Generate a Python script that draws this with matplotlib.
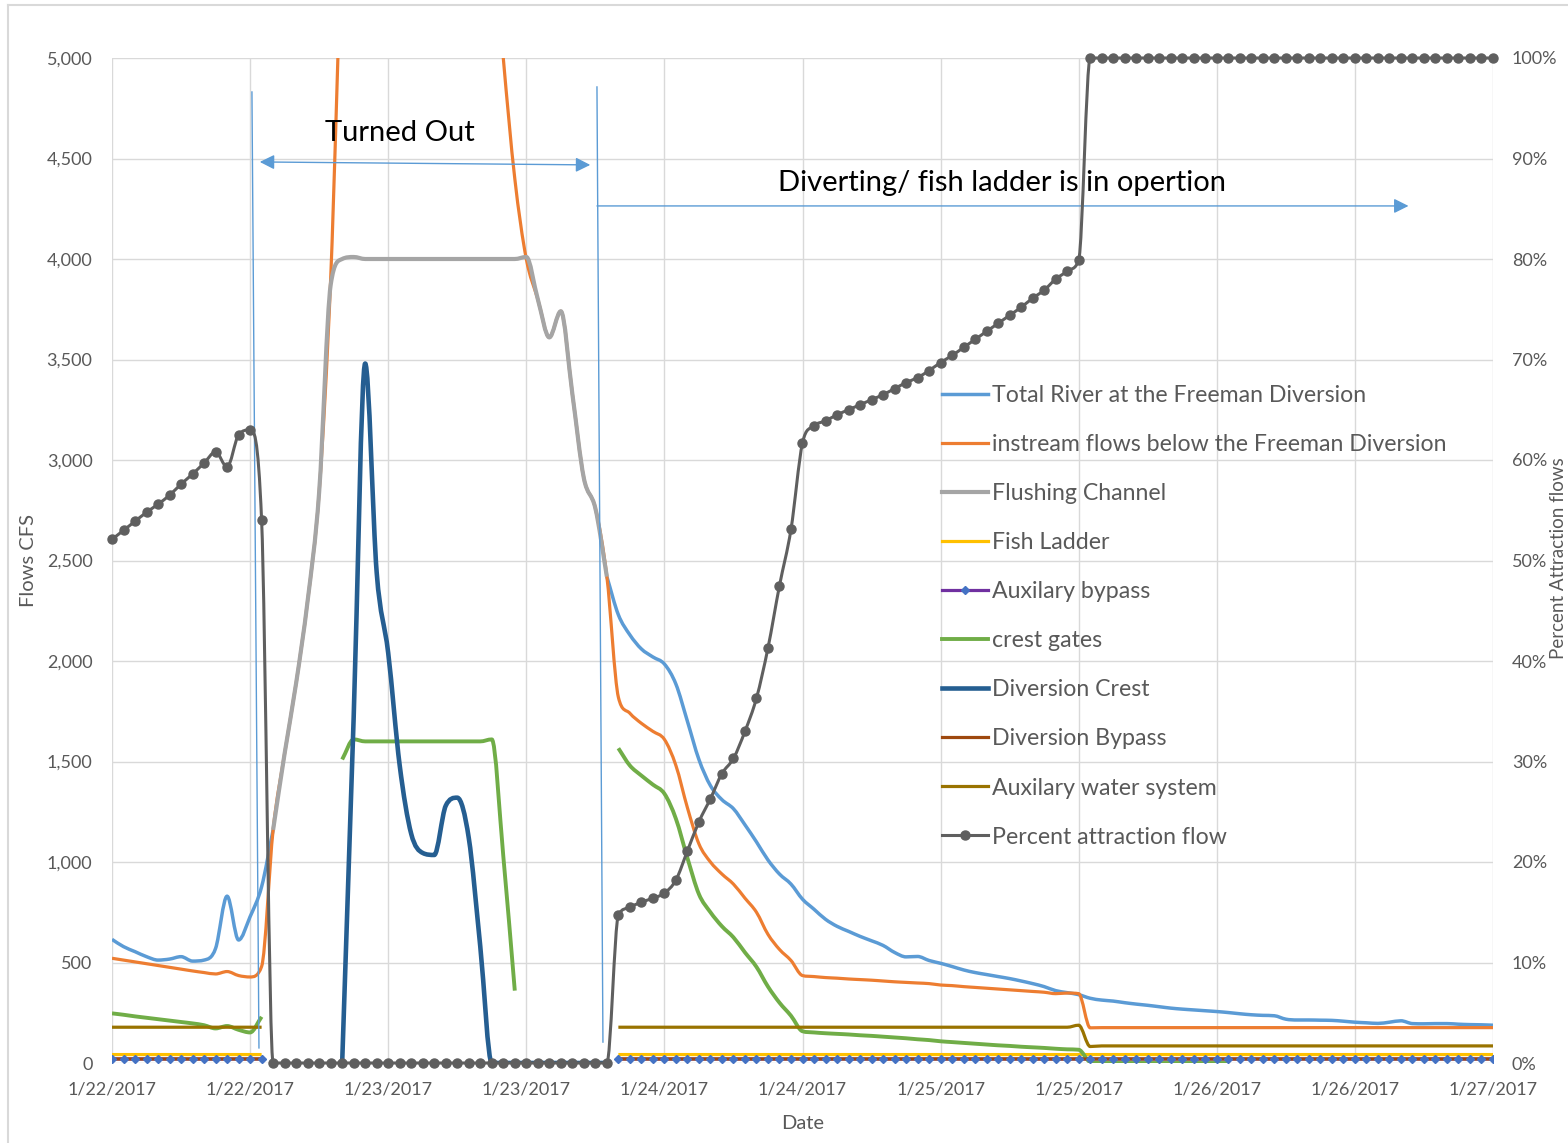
import numpy as np
import matplotlib

matplotlib.use("Agg")
import matplotlib.pyplot as plt
from matplotlib.lines import Line2D
from matplotlib.patches import PathPatch
from matplotlib.path import Path
from matplotlib.ticker import PercentFormatter

nan = np.nan

# Hourly readings from 1/22/2017 00:00 to 1/27/2017 00:00 (121 samples)
hours = np.arange(121)
tick_hours = list(range(0, 121, 12))
tick_labels = ["1/22/2017", "1/22/2017", "1/23/2017", "1/23/2017", "1/24/2017", "1/24/2017",
               "1/25/2017", "1/25/2017", "1/26/2017", "1/26/2017", "1/27/2017"]

# flows in cfs
total_river = ([615, 579, 554, 529, 512, 517, 529, 507, 512, 570, 830, 612, 728, 877]
               + [1160] + [nan] * 28 + [2420]
               + [2230, 2130, 2060, 2020, 1985, 1885, 1700, 1510, 1380, 1310,
                  1265, 1185, 1100, 1010, 940, 890, 815, 765, 715, 680,
                  655, 630, 608, 585, 550, 528, 530, 510, 496, 480,
                  463, 450, 440, 430, 420, 408, 395, 380, 360, 350, 340]
               + [322, 313, 308, 300, 293, 287, 280, 273, 268, 264,
                  260, 256, 251, 245, 240, 237, 235, 218, 214, 214,
                  213, 212, 208, 203, 200, 197, 203, 210, 196, 195,
                  196, 196, 193, 191, 190, 188])

instream = ([521, 512, 503, 494, 485, 476, 467, 458, 450, 443, 455, 435, 428, 480]
            + [1160, 1540, 1890, 2300, 2840, 3900, 5600,
               6500, 7500, 8000, 8200, 8200, 8000, 7800, 7500, 7200, 6900, 6500, 6100, 5700,
               5000, 4400, 4000, 3800, 3610, 3740, 3330, 2910, 2760, 2420]
            + [1820, 1740, 1690, 1650, 1610, 1480, 1270, 1090, 1000, 940,
               890, 820, 750, 640, 565, 510, 435, 430, 425, 422,
               418, 415, 412, 408, 404, 401, 398, 395, 388, 385,
               380, 376, 372, 368, 364, 360, 356, 352, 345, 348, 345]
            + [175] + [176] * 35)

flushing = ([nan] * 14
            + [1160, 1540, 1890, 2300, 2840, 3870, 4000, 4010]
            + [4000] * 14
            + [4010, 3800, 3610, 3740, 3330, 2910, 2760, 2420]
            + [nan] * 77)

fish_ladder = [42] * 14 + [nan] * 30 + [42] * 77
aux_bypass = [20] * 14 + [nan] * 30 + [20] * 77
diversion_bypass = [20] * 14 + [nan] * 30 + [20] * 77

crest_gates = ([247, 240, 232, 225, 218, 211, 204, 197, 188, 172, 184, 165, 152, 230]
               + [nan] * 6
               + [1510, 1610] + [1600] * 11 + [1610, 1030, 360]
               + [nan] * 8
               + [1566, 1480, 1430, 1385, 1340, 1215, 1020, 840, 750, 680,
                  625, 550, 478, 380, 300, 235, 158, 152, 148, 145,
                  142, 138, 135, 131, 127, 123, 118, 114, 108, 104,
                  100, 96, 92, 88, 85, 81, 78, 75, 71, 68, 66]
               + [5] + [0] * 12 + [nan] * 23)

diversion_crest = ([nan] * 20
                   + [0, 1720, 3480, 2440, 2040, 1480, 1140, 1045, 1035, 1280,
                      1320, 1120, 580, 0]
                   + [0] * 10
                   + [nan] * 77)

aux_water = [178] * 14 + [nan] * 30 + [178] * 40 + [188, 82] + [85] * 35

# share of river flow used as attraction flow, percent
attraction_pct = ([52.1, 53.0, 53.9, 54.8, 55.6, 56.5, 57.6, 58.6, 59.7, 60.8, 59.3, 62.5, 63.0, 54.0]
                  + [0] * 30
                  + [14.7, 15.5, 16.0, 16.4, 16.9, 18.2, 21.1, 24.0, 26.3, 28.8,
                     30.3, 33.0, 36.3, 41.3, 47.5, 53.1, 61.7, 63.4, 63.9, 64.5,
                     65.0, 65.5, 66.0, 66.5, 67.1, 67.7, 68.2, 68.9, 69.7, 70.4,
                     71.2, 72.0, 72.8, 73.6, 74.4, 75.2, 76.1, 76.9, 78.0, 78.8, 79.9]
                  + [100] * 36)

plt.rcParams.update({"font.family": ["Lato", "DejaVu Sans"], "font.size": 13})
text_grey = "#595959"
grid_grey = "#D9D9D9"
arrow_blue = "#5B9BD5"


def smooth_path(x, y):
    """Cubic path through the points with monotone (no overshoot) tangents."""
    n = len(x)
    d = np.diff(y) / np.diff(x)
    m = np.zeros(n)
    m[0], m[-1] = d[0], d[-1]
    for i in range(1, n - 1):
        if d[i - 1] * d[i] > 0:
            m[i] = np.sign(d[i]) * min(abs(d[i - 1] + d[i]) / 2,
                                       3 * min(abs(d[i - 1]), abs(d[i])))
    verts = [(x[0], y[0])]
    codes = [Path.MOVETO]
    for i in range(n - 1):
        h = (x[i + 1] - x[i]) / 3
        verts += [(x[i] + h, y[i] + m[i] * h), (x[i + 1] - h, y[i + 1] - m[i + 1] * h),
                  (x[i + 1], y[i + 1])]
        codes += [Path.CURVE4] * 3
    return Path(verts, codes)


def draw_series(a, y, color, lw, label, marker=None, ms=0, mcolor=None, clip=True):
    y = np.asarray(y, dtype=float)
    ok = ~np.isnan(y)
    # split on gaps, each run becomes its own smoothed stroke
    edges = np.flatnonzero(np.diff(np.r_[0, ok.astype(int), 0]))
    for start, stop in zip(edges[::2], edges[1::2]):
        if stop - start > 1:
            a.add_patch(PathPatch(smooth_path(hours[start:stop], y[start:stop]), fill=False,
                                  edgecolor=color, lw=lw, joinstyle="round", capstyle="butt",
                                  clip_on=clip))
    if marker:
        a.plot(hours, y, ls="none", marker=marker, ms=ms, color=mcolor, clip_on=clip)
    return Line2D([], [], color=color, lw=lw, marker=marker, ms=ms, mfc=mcolor, mec=mcolor,
                  label=label)


W, H = 1568, 1143
fig = plt.figure(figsize=(W / 100, H / 100), dpi=100)
ax = fig.add_axes([112 / W, 80 / H, 1381 / W, 1005 / H])
ax2 = ax.twinx()

# outer chart border
fig.add_artist(Line2D([8 / W, 8 / W], [0, 1 - 5 / H], transform=fig.transFigure,
                      color=grid_grey, lw=1.5))
fig.add_artist(Line2D([8 / W, 1], [1 - 5 / H, 1 - 5 / H], transform=fig.transFigure,
                      color=grid_grey, lw=1.5))

handles = [
    draw_series(ax, total_river, "#5B9BD5", 2.5, "Total River at the Freeman Diversion"),
    draw_series(ax, instream, "#ED7D31", 2.3, "instream flows below the Freeman Diversion"),
    draw_series(ax, flushing, "#A5A5A5", 3.0, "Flushing Channel"),
    draw_series(ax, fish_ladder, "#FFC000", 2.3, "Fish Ladder"),
    draw_series(ax, aux_bypass, "#7030A0", 2.3, "Auxilary bypass", marker="D", ms=4.5,
                mcolor="#4472C4"),
    draw_series(ax, crest_gates, "#70AD47", 2.8, "crest gates"),
    draw_series(ax, diversion_crest, "#255E91", 3.3, "Diversion Crest"),
    draw_series(ax, diversion_bypass, "#9E480E", 2.3, "Diversion Bypass"),
    draw_series(ax, aux_water, "#997300", 2.3, "Auxilary water system"),
    draw_series(ax2, np.array(attraction_pct) / 100, "#5F5F5F", 2.2, "Percent attraction flow",
                marker="o", ms=6.5, mcolor="#5F5F5F", clip=False),
]

ax.set_xlim(0, 120)
ax.set_ylim(0, 5000)
ax2.set_ylim(0, 1)
ax.set_xticks(tick_hours)
ax.set_xticklabels(tick_labels)
ax.set_yticks(range(0, 5001, 500))
ax.set_yticklabels([f"{v:,}" for v in range(0, 5001, 500)])
ax2.set_yticks(np.arange(0, 1.01, 0.1))
ax2.yaxis.set_major_formatter(PercentFormatter(1.0, decimals=0))

ax.grid(True, color=grid_grey, lw=1)
ax.set_axisbelow(True)
for a in (ax, ax2):
    for s in a.spines.values():
        s.set_visible(False)
ax.tick_params(axis="both", length=0, colors=text_grey, labelsize=13)
ax.tick_params(axis="y", pad=14)
ax.tick_params(axis="x", pad=13)
ax2.tick_params(axis="y", length=0, colors=text_grey, labelsize=13, pad=13.5)

ax.set_xlabel("Date", color=text_grey, fontsize=14.5, labelpad=13)
fig.text(28 / W, 1 - 560 / H, "Flows CFS", rotation=90, color=text_grey, fontsize=14.5,
         ha="center", va="center")
fig.text(1558 / W, 1 - 558 / H, "Percent Attraction flows", rotation=90, color=text_grey,
         fontsize=13.5, ha="center", va="center")

# turned-out / diverting annotations
ax.plot([12.16, 12.77], [4831, 75], color=arrow_blue, lw=1)
ax.plot([42.14, 42.66], [4856, 104], color=arrow_blue, lw=1)
ax.annotate("", xy=(12.6, 4483), xytext=(41.8, 4468),
            arrowprops=dict(arrowstyle="<|-|>", color=arrow_blue, lw=1, mutation_scale=22))
ax.annotate("", xy=(112.9, 4264), xytext=(41.9, 4264),
            arrowprops=dict(arrowstyle="-|>", color=arrow_blue, lw=1, mutation_scale=22))
ax.text(25.0, 4627, "Turned Out", fontsize=21, ha="center", va="center", color="black")
ax.text(77.3, 4378, "Diverting/ fish ladder is in opertion", fontsize=21, ha="center",
        va="center", color="black")

ax2.set_zorder(ax.get_zorder() + 1)
ax2.patch.set_visible(False)

fig.legend(handles=handles, loc="upper left", bbox_to_anchor=(942 / W, 1 - 385 / H),
           frameon=False, fontsize=16.7, labelcolor=text_grey, handlelength=2.0,
           handletextpad=0.17, labelspacing=1.21, borderpad=0, borderaxespad=0, numpoints=1)

fig.savefig("out.png", dpi=100)
